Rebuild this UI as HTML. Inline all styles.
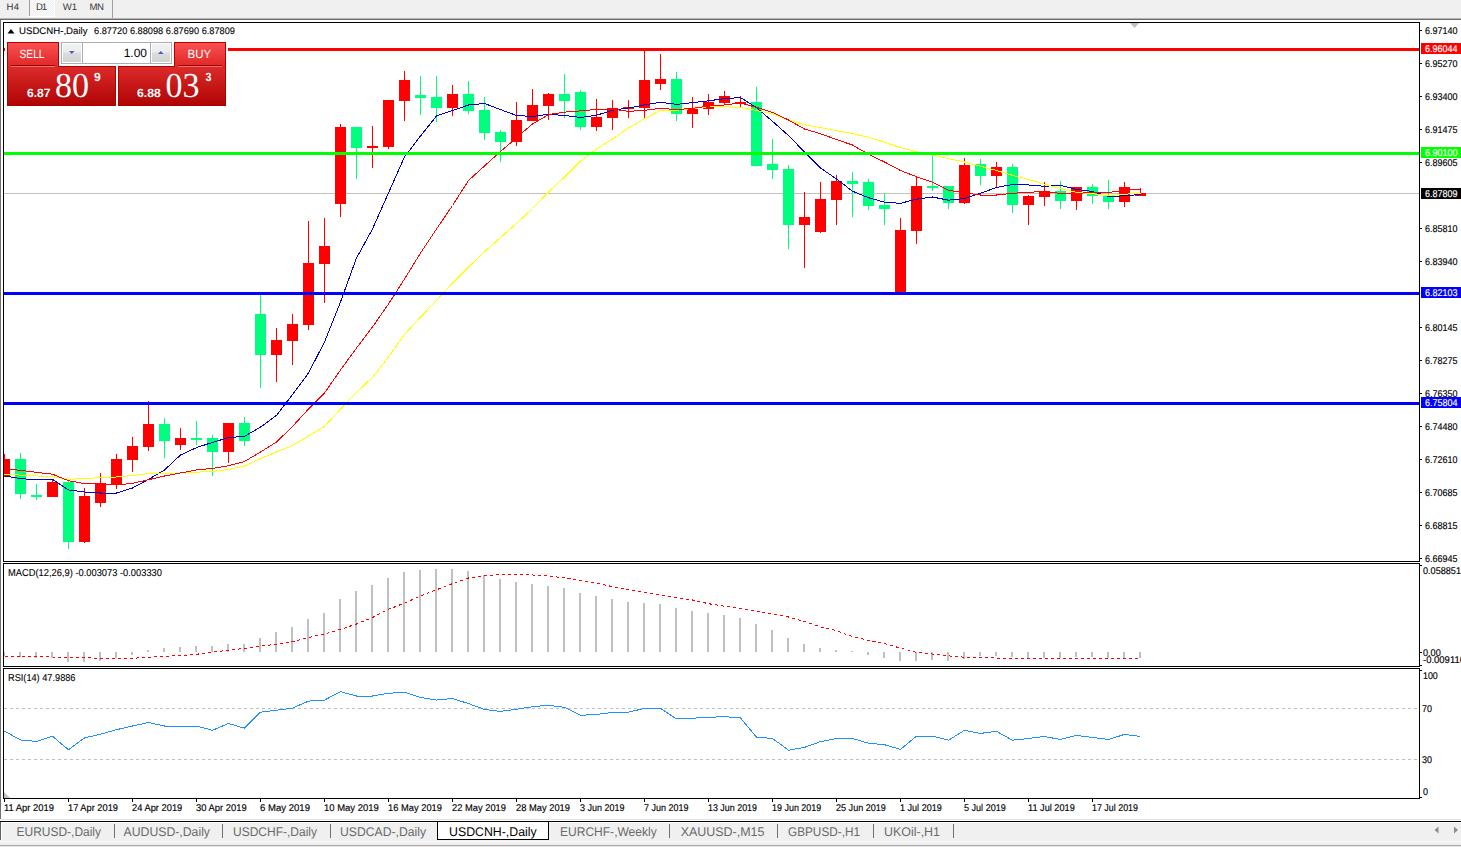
<!DOCTYPE html>
<html><head><meta charset="utf-8"><title>USDCNH-,Daily</title><style>
html,body{margin:0;padding:0;width:1461px;height:847px;overflow:hidden;background:#ffffff}
svg{display:block;position:absolute;left:0;top:0}
text{font-family:"Liberation Sans",sans-serif;text-rendering:geometricPrecision}
</style></head><body>
<svg width="1461" height="847" viewBox="0 0 1461 847">
<defs>
<linearGradient id="redg" x1="0" y1="0" x2="0" y2="1"><stop offset="0" stop-color="#f24a4a"/><stop offset="0.38" stop-color="#d82222"/><stop offset="1" stop-color="#ae0000"/></linearGradient>
<linearGradient id="redtop" x1="0" y1="0" x2="0" y2="1"><stop offset="0" stop-color="#fb5050"/><stop offset="1" stop-color="#e02828"/></linearGradient>
<linearGradient id="redlow" x1="0" y1="0" x2="0" y2="1"><stop offset="0" stop-color="#dc2a2a"/><stop offset="1" stop-color="#b00404"/></linearGradient>
<linearGradient id="btng" x1="0" y1="0" x2="0" y2="1"><stop offset="0" stop-color="#f2f2f2"/><stop offset="0.45" stop-color="#ebebeb"/><stop offset="0.5" stop-color="#dcdcdc"/><stop offset="1" stop-color="#d2d2d2"/></linearGradient>
<pattern id="dots" width="2" height="2" patternUnits="userSpaceOnUse"><rect width="2" height="2" fill="#f0f0f0"/><rect width="1" height="1" fill="#fcfcfc"/><rect x="1" y="1" width="1" height="1" fill="#fcfcfc"/></pattern>
<clipPath id="mainclip"><rect x="4" y="23" width="1415" height="538"/></clipPath>
<clipPath id="macdclip"><rect x="4" y="564" width="1415" height="102"/></clipPath>
<clipPath id="rsiclip"><rect x="4" y="669" width="1415" height="129"/></clipPath>
</defs>
<rect x="0" y="0" width="1461" height="847" fill="#ffffff"/>
<g shape-rendering="crispEdges">
<rect x="0" y="0" width="1461" height="18" fill="#f0f0f0"/>
<rect x="30" y="0" width="24" height="16" fill="url(#dots)"/>
<rect x="29" y="0" width="1" height="16" fill="#a0a0a0"/>
<rect x="29" y="16" width="26" height="1" fill="#ffffff"/>
<rect x="54" y="0" width="1" height="16" fill="#ffffff"/>
<rect x="112" y="0" width="1" height="18" fill="#a0a0a0"/>
<rect x="0" y="18" width="1461" height="1" fill="#b4b4b4"/>
<rect x="0" y="19" width="1461" height="1" fill="#6e6e6e"/>
<rect x="0" y="20" width="1" height="799" fill="#707070"/>
<rect x="3" y="22" width="1417" height="1" fill="#000"/>
<rect x="3" y="561" width="1417" height="1" fill="#000"/>
<rect x="3" y="22" width="1" height="540" fill="#000"/>
<rect x="1419" y="22" width="1" height="540" fill="#000"/>
<rect x="3" y="563" width="1417" height="1" fill="#000"/>
<rect x="3" y="666" width="1417" height="1" fill="#000"/>
<rect x="3" y="563" width="1" height="104" fill="#000"/>
<rect x="1419" y="563" width="1" height="104" fill="#000"/>
<rect x="3" y="668" width="1417" height="1" fill="#000"/>
<rect x="3" y="798" width="1417" height="1" fill="#000"/>
<rect x="3" y="668" width="1" height="131" fill="#000"/>
<rect x="1419" y="668" width="1" height="131" fill="#000"/>
<rect x="0" y="819" width="1461" height="1" fill="#e3e3e3"/>
<rect x="0" y="821" width="1461" height="1" fill="#000"/>
<rect x="0" y="822" width="1461" height="19" fill="#f0f0f0"/>
<rect x="0" y="822" width="1461" height="1" fill="#ffffff"/>
<rect x="0" y="841" width="1461" height="1" fill="#fafafa"/>
<rect x="0" y="842" width="1461" height="3" fill="#f0f0f0"/>
<rect x="0" y="845" width="1461" height="1" fill="#a8a8a8"/>
<rect x="0" y="846" width="1461" height="1" fill="#e8e8e8"/>
<rect x="0" y="822" width="1" height="18" fill="#606060"/>
<rect x="1" y="822" width="1" height="18" fill="#ffffff"/>
<rect x="437" y="822" width="112" height="17" fill="#ffffff"/>
<rect x="437" y="821" width="1" height="19" fill="#000"/>
<rect x="548" y="821" width="1" height="19" fill="#000"/>
<rect x="437" y="839" width="112" height="1" fill="#000"/>
<rect x="114" y="824" width="1" height="14" fill="#707070"/>
<rect x="222" y="824" width="1" height="14" fill="#707070"/>
<rect x="330" y="824" width="1" height="14" fill="#707070"/>
<rect x="669" y="824" width="1" height="14" fill="#707070"/>
<rect x="777" y="824" width="1" height="14" fill="#707070"/>
<rect x="873" y="824" width="1" height="14" fill="#707070"/>
<rect x="953" y="824" width="1" height="14" fill="#707070"/>
</g>
<path d="M1438.5,826.5 L1434.5,830 L1438.5,833.5 Z" fill="#8c8c8c"/>
<path d="M1454,826.5 L1458,830 L1454,833.5 Z" fill="#8c8c8c"/>
<g clip-path="url(#mainclip)" shape-rendering="crispEdges">
<rect x="4" y="193" width="1415" height="1" fill="#c0c0c0"/>
<rect x="4" y="454" width="1" height="23" fill="#ff0000"/>
<rect x="-1" y="459" width="11" height="18" fill="#ff0000"/>
<rect x="20" y="453" width="1" height="46" fill="#00ff7f"/>
<rect x="15" y="459" width="11" height="35" fill="#00ff7f"/>
<rect x="36" y="484" width="1" height="16" fill="#00ff7f"/>
<rect x="31" y="495" width="11" height="2" fill="#00ff7f"/>
<rect x="52" y="480" width="1" height="17" fill="#ff0000"/>
<rect x="47" y="482" width="11" height="15" fill="#ff0000"/>
<rect x="68" y="481" width="1" height="68" fill="#00ff7f"/>
<rect x="63" y="482" width="11" height="60" fill="#00ff7f"/>
<rect x="84" y="488" width="1" height="55" fill="#ff0000"/>
<rect x="79" y="496" width="11" height="46" fill="#ff0000"/>
<rect x="100" y="473" width="1" height="34" fill="#ff0000"/>
<rect x="95" y="483" width="11" height="20" fill="#ff0000"/>
<rect x="116" y="454" width="1" height="35" fill="#ff0000"/>
<rect x="111" y="459" width="11" height="25" fill="#ff0000"/>
<rect x="132" y="437" width="1" height="35" fill="#ff0000"/>
<rect x="127" y="446" width="11" height="14" fill="#ff0000"/>
<rect x="148" y="401" width="1" height="50" fill="#ff0000"/>
<rect x="143" y="424" width="11" height="23" fill="#ff0000"/>
<rect x="164" y="418" width="1" height="40" fill="#00ff7f"/>
<rect x="159" y="424" width="11" height="17" fill="#00ff7f"/>
<rect x="180" y="428" width="1" height="22" fill="#ff0000"/>
<rect x="175" y="438" width="11" height="7" fill="#ff0000"/>
<rect x="196" y="421" width="1" height="24" fill="#00ff7f"/>
<rect x="191" y="438" width="11" height="2" fill="#00ff7f"/>
<rect x="212" y="435" width="1" height="41" fill="#00ff7f"/>
<rect x="207" y="438" width="11" height="14" fill="#00ff7f"/>
<rect x="228" y="423" width="1" height="40" fill="#ff0000"/>
<rect x="223" y="423" width="11" height="29" fill="#ff0000"/>
<rect x="244" y="417" width="1" height="29" fill="#00ff7f"/>
<rect x="239" y="423" width="11" height="18" fill="#00ff7f"/>
<rect x="260" y="295" width="1" height="93" fill="#00ff7f"/>
<rect x="255" y="314" width="11" height="41" fill="#00ff7f"/>
<rect x="276" y="328" width="1" height="54" fill="#ff0000"/>
<rect x="271" y="340" width="11" height="15" fill="#ff0000"/>
<rect x="292" y="314" width="1" height="51" fill="#ff0000"/>
<rect x="287" y="324" width="11" height="17" fill="#ff0000"/>
<rect x="308" y="221" width="1" height="109" fill="#ff0000"/>
<rect x="303" y="263" width="11" height="62" fill="#ff0000"/>
<rect x="324" y="218" width="1" height="85" fill="#ff0000"/>
<rect x="319" y="246" width="11" height="18" fill="#ff0000"/>
<rect x="340" y="124" width="1" height="93" fill="#ff0000"/>
<rect x="335" y="127" width="11" height="77" fill="#ff0000"/>
<rect x="356" y="127" width="1" height="52" fill="#00ff7f"/>
<rect x="351" y="127" width="11" height="21" fill="#00ff7f"/>
<rect x="372" y="126" width="1" height="42" fill="#ff0000"/>
<rect x="367" y="146" width="11" height="2" fill="#ff0000"/>
<rect x="388" y="100" width="1" height="49" fill="#ff0000"/>
<rect x="383" y="100" width="11" height="47" fill="#ff0000"/>
<rect x="404" y="71" width="1" height="50" fill="#ff0000"/>
<rect x="399" y="80" width="11" height="21" fill="#ff0000"/>
<rect x="420" y="76" width="1" height="39" fill="#00ff7f"/>
<rect x="415" y="95" width="11" height="3" fill="#00ff7f"/>
<rect x="436" y="76" width="1" height="46" fill="#00ff7f"/>
<rect x="431" y="97" width="11" height="11" fill="#00ff7f"/>
<rect x="452" y="85" width="1" height="31" fill="#ff0000"/>
<rect x="447" y="94" width="11" height="14" fill="#ff0000"/>
<rect x="468" y="81" width="1" height="33" fill="#00ff7f"/>
<rect x="463" y="94" width="11" height="17" fill="#00ff7f"/>
<rect x="484" y="97" width="1" height="43" fill="#00ff7f"/>
<rect x="479" y="110" width="11" height="23" fill="#00ff7f"/>
<rect x="500" y="130" width="1" height="32" fill="#00ff7f"/>
<rect x="495" y="132" width="11" height="10" fill="#00ff7f"/>
<rect x="516" y="102" width="1" height="44" fill="#ff0000"/>
<rect x="511" y="120" width="11" height="22" fill="#ff0000"/>
<rect x="532" y="89" width="1" height="32" fill="#ff0000"/>
<rect x="527" y="105" width="11" height="16" fill="#ff0000"/>
<rect x="548" y="93" width="1" height="27" fill="#ff0000"/>
<rect x="543" y="94" width="11" height="12" fill="#ff0000"/>
<rect x="564" y="74" width="1" height="44" fill="#00ff7f"/>
<rect x="559" y="94" width="11" height="7" fill="#00ff7f"/>
<rect x="580" y="90" width="1" height="40" fill="#00ff7f"/>
<rect x="575" y="92" width="11" height="35" fill="#00ff7f"/>
<rect x="596" y="99" width="1" height="32" fill="#ff0000"/>
<rect x="591" y="117" width="11" height="10" fill="#ff0000"/>
<rect x="612" y="100" width="1" height="30" fill="#ff0000"/>
<rect x="607" y="108" width="11" height="10" fill="#ff0000"/>
<rect x="628" y="100" width="1" height="18" fill="#ff0000"/>
<rect x="623" y="107" width="11" height="2" fill="#ff0000"/>
<rect x="644" y="49" width="1" height="69" fill="#ff0000"/>
<rect x="639" y="80" width="11" height="28" fill="#ff0000"/>
<rect x="660" y="54" width="1" height="36" fill="#ff0000"/>
<rect x="655" y="79" width="11" height="5" fill="#ff0000"/>
<rect x="676" y="72" width="1" height="49" fill="#00ff7f"/>
<rect x="671" y="79" width="11" height="35" fill="#00ff7f"/>
<rect x="692" y="97" width="1" height="31" fill="#ff0000"/>
<rect x="687" y="109" width="11" height="5" fill="#ff0000"/>
<rect x="708" y="94" width="1" height="21" fill="#ff0000"/>
<rect x="703" y="102" width="11" height="7" fill="#ff0000"/>
<rect x="724" y="91" width="1" height="13" fill="#ff0000"/>
<rect x="719" y="96" width="11" height="7" fill="#ff0000"/>
<rect x="740" y="96" width="1" height="11" fill="#ff0000"/>
<rect x="735" y="102" width="11" height="2" fill="#ff0000"/>
<rect x="756" y="87" width="1" height="79" fill="#00ff7f"/>
<rect x="751" y="102" width="11" height="64" fill="#00ff7f"/>
<rect x="772" y="139" width="1" height="40" fill="#00ff7f"/>
<rect x="767" y="164" width="11" height="6" fill="#00ff7f"/>
<rect x="788" y="165" width="1" height="84" fill="#00ff7f"/>
<rect x="783" y="169" width="11" height="56" fill="#00ff7f"/>
<rect x="804" y="192" width="1" height="76" fill="#ff0000"/>
<rect x="799" y="217" width="11" height="8" fill="#ff0000"/>
<rect x="820" y="182" width="1" height="51" fill="#ff0000"/>
<rect x="815" y="199" width="11" height="33" fill="#ff0000"/>
<rect x="836" y="175" width="1" height="50" fill="#ff0000"/>
<rect x="831" y="181" width="11" height="19" fill="#ff0000"/>
<rect x="852" y="172" width="1" height="45" fill="#00ff7f"/>
<rect x="847" y="181" width="11" height="3" fill="#00ff7f"/>
<rect x="868" y="179" width="1" height="31" fill="#00ff7f"/>
<rect x="863" y="182" width="11" height="24" fill="#00ff7f"/>
<rect x="884" y="193" width="1" height="32" fill="#00ff7f"/>
<rect x="879" y="205" width="11" height="4" fill="#00ff7f"/>
<rect x="900" y="218" width="1" height="74" fill="#ff0000"/>
<rect x="895" y="230" width="11" height="62" fill="#ff0000"/>
<rect x="916" y="176" width="1" height="68" fill="#ff0000"/>
<rect x="911" y="186" width="11" height="45" fill="#ff0000"/>
<rect x="932" y="155" width="1" height="36" fill="#00ff7f"/>
<rect x="927" y="186" width="11" height="2" fill="#00ff7f"/>
<rect x="948" y="186" width="1" height="23" fill="#00ff7f"/>
<rect x="943" y="186" width="11" height="17" fill="#00ff7f"/>
<rect x="964" y="158" width="1" height="46" fill="#ff0000"/>
<rect x="959" y="165" width="11" height="38" fill="#ff0000"/>
<rect x="980" y="159" width="1" height="26" fill="#00ff7f"/>
<rect x="975" y="164" width="11" height="12" fill="#00ff7f"/>
<rect x="996" y="162" width="1" height="25" fill="#ff0000"/>
<rect x="991" y="167" width="11" height="9" fill="#ff0000"/>
<rect x="1012" y="164" width="1" height="49" fill="#00ff7f"/>
<rect x="1007" y="167" width="11" height="38" fill="#00ff7f"/>
<rect x="1028" y="195" width="1" height="30" fill="#ff0000"/>
<rect x="1023" y="196" width="11" height="9" fill="#ff0000"/>
<rect x="1044" y="182" width="1" height="24" fill="#ff0000"/>
<rect x="1039" y="191" width="11" height="6" fill="#ff0000"/>
<rect x="1060" y="181" width="1" height="28" fill="#00ff7f"/>
<rect x="1055" y="191" width="11" height="10" fill="#00ff7f"/>
<rect x="1076" y="187" width="1" height="23" fill="#ff0000"/>
<rect x="1071" y="187" width="11" height="14" fill="#ff0000"/>
<rect x="1092" y="184" width="1" height="20" fill="#00ff7f"/>
<rect x="1087" y="187" width="11" height="9" fill="#00ff7f"/>
<rect x="1108" y="180" width="1" height="29" fill="#00ff7f"/>
<rect x="1103" y="196" width="11" height="6" fill="#00ff7f"/>
<rect x="1124" y="182" width="1" height="25" fill="#ff0000"/>
<rect x="1119" y="187" width="11" height="15" fill="#ff0000"/>
<rect x="1140" y="188" width="1" height="8" fill="#ff0000"/>
<rect x="1135" y="193" width="11" height="3" fill="#ff0000"/>
</g>
<g clip-path="url(#mainclip)">
<polyline points="4.5,476 20.5,478.5 36.5,480 52.5,479.4 68.5,490 84.5,492 100.5,493 116.5,493 132.5,488 148.5,479.4 164.5,470 180.5,455 196.5,447.6 212.5,442.4 228.5,437.6 244.5,436.3 260.5,427.1 276.5,415.4 292.5,394.5 308.5,373 324.5,342 340.5,302 356.5,258 372.5,229 388.5,193 404.5,157 420.5,136 436.5,116 452.5,110.5 468.5,105 484.5,103.5 500.5,109.6 516.5,115.5 532.5,116.5 548.5,114.3 564.5,115.5 580.5,117.5 596.5,115.3 612.5,110.2 628.5,108 644.5,105 660.5,102.2 676.5,104.4 692.5,102.6 708.5,100.8 724.5,98.7 740.5,97.5 756.5,107.7 772.5,121.3 788.5,135.5 804.5,152 820.5,168 836.5,179 852.5,191.2 868.5,197.7 884.5,202.2 900.5,203.3 916.5,199.2 932.5,197 948.5,200.2 964.5,198.6 980.5,193.3 996.5,187.5 1012.5,184.5 1028.5,185 1044.5,186.3 1060.5,185.3 1076.5,189.4 1092.5,191.4 1108.5,196.6 1124.5,195.8 1140.5,194.4" fill="none" stroke="#0000cd" stroke-width="1" shape-rendering="crispEdges"/>
<polyline points="4.5,474.2 20.5,475.1 36.5,475.9 52.5,476.8 68.5,479.4 84.5,478.5 100.5,477.7 116.5,477 132.5,475.5 148.5,473.6 164.5,473.3 180.5,473 196.5,472.2 212.5,471.4 228.5,469.5 244.5,466 260.5,458.5 276.5,452 292.5,445.5 308.5,436 324.5,426.5 340.5,409 356.5,392.5 372.5,377.5 388.5,357 404.5,334.5 420.5,317 436.5,300.5 452.5,283 468.5,267 484.5,251.8 500.5,237.5 516.5,223.5 532.5,208.5 548.5,192 564.5,177 580.5,161 596.5,149 612.5,139 628.5,128 644.5,118.9 660.5,110.3 676.5,110.3 692.5,108.5 708.5,106.7 724.5,106.7 740.5,107.5 756.5,110.5 772.5,113.6 788.5,120 804.5,124.8 820.5,127.6 836.5,130.7 852.5,133.7 868.5,137.2 884.5,142.3 900.5,147.7 916.5,151.6 932.5,155 948.5,158.6 964.5,162 980.5,166.2 996.5,170.5 1012.5,175.3 1028.5,179.5 1044.5,184.2 1060.5,188.5 1076.5,192.3 1092.5,193.7 1108.5,195.5 1124.5,194.2 1140.5,193.3" fill="none" stroke="#ffff00" stroke-width="1" shape-rendering="crispEdges"/>
<polyline points="4.5,469 20.5,470.3 36.5,472.3 52.5,474.2 68.5,480.7 84.5,483.6 100.5,484 116.5,485 132.5,483.3 148.5,479.7 164.5,476 180.5,473 196.5,470 212.5,468.4 228.5,465.8 244.5,461.5 260.5,452 276.5,442 292.5,426.5 308.5,409 324.5,393 340.5,370 356.5,348 372.5,327 388.5,304 404.5,279 420.5,253 436.5,229 452.5,205.5 468.5,180.5 484.5,166 500.5,151.5 516.5,137.7 532.5,124 548.5,114.6 564.5,112.1 580.5,110.9 596.5,109.4 612.5,109 628.5,111.4 644.5,110.3 660.5,108.3 676.5,109.7 692.5,108.3 708.5,106.1 724.5,105 740.5,103 756.5,107.4 772.5,112.4 788.5,120 804.5,129 820.5,133.7 836.5,139.6 852.5,145 868.5,154.4 884.5,162 900.5,170.5 916.5,176.7 932.5,182.2 948.5,190.2 964.5,192.8 980.5,195 996.5,195 1012.5,193.3 1028.5,192.3 1044.5,191.4 1060.5,193.5 1076.5,193.5 1092.5,192.3 1108.5,192.5 1124.5,190.4 1140.5,189.1" fill="none" stroke="#ff0000" stroke-width="1" shape-rendering="crispEdges"/>
</g>
<g clip-path="url(#mainclip)" shape-rendering="crispEdges">
<rect x="4" y="48" width="1415" height="3" fill="#ff0000"/>
<rect x="4" y="152" width="1415" height="3" fill="#00ff00"/>
<rect x="4" y="292" width="1415" height="3" fill="#0000ff"/>
<rect x="4" y="402" width="1415" height="3" fill="#0000ff"/>
</g>
<path d="M1130,23 L1139,23 L1134.5,28 Z" fill="#c0c0c0"/>
<g clip-path="url(#macdclip)" shape-rendering="crispEdges">
<rect x="3" y="652" width="2" height="4" fill="#c0c0c0"/>
<rect x="19" y="652" width="2" height="5" fill="#c0c0c0"/>
<rect x="35" y="652" width="2" height="6" fill="#c0c0c0"/>
<rect x="51" y="652" width="2" height="6" fill="#c0c0c0"/>
<rect x="67" y="652" width="2" height="10" fill="#c0c0c0"/>
<rect x="83" y="652" width="2" height="10" fill="#c0c0c0"/>
<rect x="99" y="652" width="2" height="9" fill="#c0c0c0"/>
<rect x="115" y="652" width="2" height="6" fill="#c0c0c0"/>
<rect x="131" y="652" width="2" height="3" fill="#c0c0c0"/>
<rect x="147" y="650" width="2" height="2" fill="#c0c0c0"/>
<rect x="163" y="648" width="2" height="4" fill="#c0c0c0"/>
<rect x="179" y="647" width="2" height="5" fill="#c0c0c0"/>
<rect x="195" y="646" width="2" height="6" fill="#c0c0c0"/>
<rect x="211" y="646" width="2" height="6" fill="#c0c0c0"/>
<rect x="227" y="644" width="2" height="8" fill="#c0c0c0"/>
<rect x="243" y="644" width="2" height="8" fill="#c0c0c0"/>
<rect x="259" y="638" width="2" height="14" fill="#c0c0c0"/>
<rect x="275" y="632" width="2" height="20" fill="#c0c0c0"/>
<rect x="291" y="627" width="2" height="25" fill="#c0c0c0"/>
<rect x="307" y="619" width="2" height="33" fill="#c0c0c0"/>
<rect x="323" y="613" width="2" height="39" fill="#c0c0c0"/>
<rect x="339" y="599" width="2" height="53" fill="#c0c0c0"/>
<rect x="355" y="591" width="2" height="61" fill="#c0c0c0"/>
<rect x="371" y="585" width="2" height="67" fill="#c0c0c0"/>
<rect x="387" y="578" width="2" height="74" fill="#c0c0c0"/>
<rect x="403" y="572" width="2" height="80" fill="#c0c0c0"/>
<rect x="419" y="570" width="2" height="82" fill="#c0c0c0"/>
<rect x="435" y="569" width="2" height="83" fill="#c0c0c0"/>
<rect x="451" y="569" width="2" height="83" fill="#c0c0c0"/>
<rect x="467" y="571" width="2" height="81" fill="#c0c0c0"/>
<rect x="483" y="575" width="2" height="77" fill="#c0c0c0"/>
<rect x="499" y="579" width="2" height="73" fill="#c0c0c0"/>
<rect x="515" y="582" width="2" height="70" fill="#c0c0c0"/>
<rect x="531" y="584" width="2" height="68" fill="#c0c0c0"/>
<rect x="547" y="586" width="2" height="66" fill="#c0c0c0"/>
<rect x="563" y="588" width="2" height="64" fill="#c0c0c0"/>
<rect x="579" y="593" width="2" height="59" fill="#c0c0c0"/>
<rect x="595" y="596" width="2" height="56" fill="#c0c0c0"/>
<rect x="611" y="599" width="2" height="53" fill="#c0c0c0"/>
<rect x="627" y="602" width="2" height="50" fill="#c0c0c0"/>
<rect x="643" y="603" width="2" height="49" fill="#c0c0c0"/>
<rect x="659" y="604" width="2" height="48" fill="#c0c0c0"/>
<rect x="675" y="608" width="2" height="44" fill="#c0c0c0"/>
<rect x="691" y="611" width="2" height="41" fill="#c0c0c0"/>
<rect x="707" y="613" width="2" height="39" fill="#c0c0c0"/>
<rect x="723" y="615" width="2" height="37" fill="#c0c0c0"/>
<rect x="739" y="618" width="2" height="34" fill="#c0c0c0"/>
<rect x="755" y="624" width="2" height="28" fill="#c0c0c0"/>
<rect x="771" y="630" width="2" height="22" fill="#c0c0c0"/>
<rect x="787" y="638" width="2" height="14" fill="#c0c0c0"/>
<rect x="803" y="644" width="2" height="8" fill="#c0c0c0"/>
<rect x="819" y="648" width="2" height="4" fill="#c0c0c0"/>
<rect x="835" y="650" width="2" height="2" fill="#c0c0c0"/>
<rect x="851" y="651" width="2" height="1" fill="#c0c0c0"/>
<rect x="867" y="652" width="2" height="3" fill="#c0c0c0"/>
<rect x="883" y="652" width="2" height="6" fill="#c0c0c0"/>
<rect x="899" y="652" width="2" height="9" fill="#c0c0c0"/>
<rect x="915" y="652" width="2" height="9" fill="#c0c0c0"/>
<rect x="931" y="652" width="2" height="8" fill="#c0c0c0"/>
<rect x="947" y="652" width="2" height="9" fill="#c0c0c0"/>
<rect x="963" y="652" width="2" height="7" fill="#c0c0c0"/>
<rect x="979" y="652" width="2" height="4" fill="#c0c0c0"/>
<rect x="995" y="652" width="2" height="4" fill="#c0c0c0"/>
<rect x="1011" y="652" width="2" height="5" fill="#c0c0c0"/>
<rect x="1027" y="652" width="2" height="6" fill="#c0c0c0"/>
<rect x="1043" y="652" width="2" height="6" fill="#c0c0c0"/>
<rect x="1059" y="652" width="2" height="6" fill="#c0c0c0"/>
<rect x="1075" y="652" width="2" height="5" fill="#c0c0c0"/>
<rect x="1091" y="652" width="2" height="5" fill="#c0c0c0"/>
<rect x="1107" y="652" width="2" height="6" fill="#c0c0c0"/>
<rect x="1123" y="652" width="2" height="6" fill="#c0c0c0"/>
<rect x="1139" y="652" width="2" height="6" fill="#c0c0c0"/>
</g>
<g clip-path="url(#macdclip)">
<polyline points="4.5,656.3 20.5,656.3 36.5,656.5 52.5,657 68.5,657.3 84.5,657.8 100.5,658.3 116.5,658.4 132.5,658.3 148.5,657.3 164.5,656.3 180.5,655.5 196.5,654.3 212.5,652 228.5,650.3 244.5,648.3 260.5,646.2 276.5,644.2 292.5,641.7 308.5,637.6 324.5,633.9 340.5,629.4 356.5,624 372.5,617.5 388.5,609.3 404.5,603.1 420.5,596 436.5,589.8 452.5,583.6 468.5,578 484.5,576 500.5,574.5 516.5,574.4 532.5,575 548.5,576 564.5,578 580.5,580.5 596.5,583 612.5,586.7 628.5,589.4 644.5,592.4 660.5,595.3 676.5,597.6 692.5,600 708.5,603.7 724.5,606.2 740.5,608.7 756.5,611.3 772.5,613.8 788.5,617 804.5,621.6 820.5,626.8 836.5,630.7 852.5,636.7 868.5,640.3 884.5,643.7 900.5,648.1 916.5,652.3 932.5,654.1 948.5,655.9 964.5,657.2 980.5,657.2 996.5,658 1012.5,658 1028.5,658 1044.5,658 1060.5,658 1076.5,658 1092.5,658 1108.5,658 1124.5,658 1140.5,658" fill="none" stroke="#ff0000" stroke-width="1" shape-rendering="crispEdges" stroke-dasharray="3,3"/>
</g>
<g clip-path="url(#rsiclip)" shape-rendering="crispEdges">
<line x1="4" y1="708.5" x2="1419" y2="708.5" stroke="#c0c0c0" stroke-width="1" stroke-dasharray="3,3"/>
<line x1="4" y1="759.5" x2="1419" y2="759.5" stroke="#c0c0c0" stroke-width="1" stroke-dasharray="3,3"/>
</g>
<g clip-path="url(#rsiclip)">
<polyline points="4.5,731.1 20.5,740 36.5,741.4 52.5,736.3 68.5,749.8 84.5,737.9 100.5,734.2 116.5,729.7 132.5,726 148.5,722.5 164.5,726 180.5,726 196.5,726 212.5,730.3 228.5,723.5 244.5,728.2 260.5,712.2 276.5,710.2 292.5,708.1 308.5,701.1 324.5,700.1 340.5,691.7 356.5,696 372.5,696 388.5,693.3 404.5,692.3 420.5,697.5 436.5,700.1 452.5,698.5 468.5,703.6 484.5,709.4 500.5,711.4 516.5,709.2 532.5,706.7 548.5,705.3 564.5,707.3 580.5,715.3 596.5,714.5 612.5,712.4 628.5,712.2 644.5,708.3 660.5,708.3 676.5,719 692.5,718.2 708.5,717.4 724.5,716.6 740.5,718 756.5,737.1 772.5,738.5 788.5,750.2 804.5,747.4 820.5,741.6 836.5,738.5 852.5,738.5 868.5,743.2 884.5,744.7 900.5,749.4 916.5,736.1 932.5,736.1 948.5,740.2 964.5,730.3 980.5,733.4 996.5,731.3 1012.5,740.2 1028.5,738.5 1044.5,736.5 1060.5,739.5 1076.5,735.4 1092.5,737.5 1108.5,739.5 1124.5,734.4 1140.5,736.5" fill="none" stroke="#1e90ff" stroke-width="1" shape-rendering="crispEdges"/>
</g>
<path d="M4,792 L4,798 L10,798 Z" fill="#c0c0c0"/>
<g shape-rendering="crispEdges">
<rect x="1420" y="30" width="2" height="1" fill="#000"/>
<rect x="1420" y="63" width="2" height="1" fill="#000"/>
<rect x="1420" y="96" width="2" height="1" fill="#000"/>
<rect x="1420" y="129" width="2" height="1" fill="#000"/>
<rect x="1420" y="162" width="2" height="1" fill="#000"/>
<rect x="1420" y="228" width="2" height="1" fill="#000"/>
<rect x="1420" y="261" width="2" height="1" fill="#000"/>
<rect x="1420" y="327" width="2" height="1" fill="#000"/>
<rect x="1420" y="360" width="2" height="1" fill="#000"/>
<rect x="1420" y="393" width="2" height="1" fill="#000"/>
<rect x="1420" y="426" width="2" height="1" fill="#000"/>
<rect x="1420" y="459" width="2" height="1" fill="#000"/>
<rect x="1420" y="492" width="2" height="1" fill="#000"/>
<rect x="1420" y="525" width="2" height="1" fill="#000"/>
<rect x="1420" y="558" width="2" height="1" fill="#000"/>
</g>
<text x="1425" y="34" font-size="9.8" fill="#000" textLength="32.5" lengthAdjust="spacingAndGlyphs" stroke="#000" stroke-width="0.15">6.97140</text>
<text x="1425" y="67" font-size="9.8" fill="#000" textLength="32.5" lengthAdjust="spacingAndGlyphs" stroke="#000" stroke-width="0.15">6.95270</text>
<text x="1425" y="100" font-size="9.8" fill="#000" textLength="32.5" lengthAdjust="spacingAndGlyphs" stroke="#000" stroke-width="0.15">6.93400</text>
<text x="1425" y="133" font-size="9.8" fill="#000" textLength="32.5" lengthAdjust="spacingAndGlyphs" stroke="#000" stroke-width="0.15">6.91475</text>
<text x="1425" y="166" font-size="9.8" fill="#000" textLength="32.5" lengthAdjust="spacingAndGlyphs" stroke="#000" stroke-width="0.15">6.89605</text>
<text x="1425" y="232" font-size="9.8" fill="#000" textLength="32.5" lengthAdjust="spacingAndGlyphs" stroke="#000" stroke-width="0.15">6.85810</text>
<text x="1425" y="265" font-size="9.8" fill="#000" textLength="32.5" lengthAdjust="spacingAndGlyphs" stroke="#000" stroke-width="0.15">6.83940</text>
<text x="1425" y="331" font-size="9.8" fill="#000" textLength="32.5" lengthAdjust="spacingAndGlyphs" stroke="#000" stroke-width="0.15">6.80145</text>
<text x="1425" y="364" font-size="9.8" fill="#000" textLength="32.5" lengthAdjust="spacingAndGlyphs" stroke="#000" stroke-width="0.15">6.78275</text>
<text x="1425" y="397" font-size="9.8" fill="#000" textLength="32.5" lengthAdjust="spacingAndGlyphs" stroke="#000" stroke-width="0.15">6.76350</text>
<text x="1425" y="430" font-size="9.8" fill="#000" textLength="32.5" lengthAdjust="spacingAndGlyphs" stroke="#000" stroke-width="0.15">6.74480</text>
<text x="1425" y="463" font-size="9.8" fill="#000" textLength="32.5" lengthAdjust="spacingAndGlyphs" stroke="#000" stroke-width="0.15">6.72610</text>
<text x="1425" y="496" font-size="9.8" fill="#000" textLength="32.5" lengthAdjust="spacingAndGlyphs" stroke="#000" stroke-width="0.15">6.70685</text>
<text x="1425" y="529" font-size="9.8" fill="#000" textLength="32.5" lengthAdjust="spacingAndGlyphs" stroke="#000" stroke-width="0.15">6.68815</text>
<text x="1425" y="562" font-size="9.8" fill="#000" textLength="32.5" lengthAdjust="spacingAndGlyphs" stroke="#000" stroke-width="0.15">6.66945</text>
<g shape-rendering="crispEdges">
<rect x="1421" y="43" width="40" height="11" fill="#ff0000"/>
<rect x="1421" y="147" width="40" height="11" fill="#00ff00"/>
<rect x="1421" y="188" width="40" height="11" fill="#000000"/>
<rect x="1421" y="287" width="40" height="11" fill="#0000ff"/>
<rect x="1421" y="397" width="40" height="11" fill="#0000ff"/>
</g>
<text x="1425" y="52" font-size="9.8" fill="#ffffff" textLength="32.5" lengthAdjust="spacingAndGlyphs" stroke="#ffffff" stroke-width="0.15">6.96044</text>
<text x="1425" y="156" font-size="9.8" fill="#ffffff" textLength="32.5" lengthAdjust="spacingAndGlyphs" stroke="#ffffff" stroke-width="0.15">6.90100</text>
<text x="1425" y="197" font-size="9.8" fill="#ffffff" textLength="32.5" lengthAdjust="spacingAndGlyphs" stroke="#ffffff" stroke-width="0.15">6.87809</text>
<text x="1425" y="296" font-size="9.8" fill="#ffffff" textLength="32.5" lengthAdjust="spacingAndGlyphs" stroke="#ffffff" stroke-width="0.15">6.82103</text>
<text x="1425" y="406" font-size="9.8" fill="#ffffff" textLength="32.5" lengthAdjust="spacingAndGlyphs" stroke="#ffffff" stroke-width="0.15">6.75804</text>
<g shape-rendering="crispEdges">
<rect x="1420" y="565" width="2" height="1" fill="#000"/>
<rect x="1420" y="652" width="2" height="1" fill="#000"/>
<rect x="1420" y="665" width="2" height="1" fill="#000"/>
<rect x="1420" y="670" width="2" height="1" fill="#000"/>
<rect x="1420" y="797" width="2" height="1" fill="#000"/>
</g>
<text x="1423" y="574" font-size="9.8" fill="#000" textLength="38" lengthAdjust="spacingAndGlyphs" stroke="#000" stroke-width="0.15">0.058851</text>
<text x="1423" y="656" font-size="9.8" fill="#000" textLength="17.8" lengthAdjust="spacingAndGlyphs" stroke="#000" stroke-width="0.15">0.00</text>
<text x="1423" y="663" font-size="9.8" fill="#000" textLength="42" lengthAdjust="spacingAndGlyphs" stroke="#000" stroke-width="0.15">-0.009116</text>
<text x="1423" y="679" font-size="9.8" fill="#000" textLength="14.8" lengthAdjust="spacingAndGlyphs" stroke="#000" stroke-width="0.15">100</text>
<text x="1422" y="712" font-size="9.8" fill="#000" textLength="10" lengthAdjust="spacingAndGlyphs" stroke="#000" stroke-width="0.15">70</text>
<text x="1422" y="763" font-size="9.8" fill="#000" textLength="10" lengthAdjust="spacingAndGlyphs" stroke="#000" stroke-width="0.15">30</text>
<text x="1423" y="795" font-size="9.8" fill="#000" textLength="5" lengthAdjust="spacingAndGlyphs" stroke="#000" stroke-width="0.15">0</text>
<g shape-rendering="crispEdges">
<rect x="4" y="799" width="1" height="3" fill="#000"/>
<rect x="68" y="799" width="1" height="3" fill="#000"/>
<rect x="132" y="799" width="1" height="3" fill="#000"/>
<rect x="196" y="799" width="1" height="3" fill="#000"/>
<rect x="260" y="799" width="1" height="3" fill="#000"/>
<rect x="324" y="799" width="1" height="3" fill="#000"/>
<rect x="388" y="799" width="1" height="3" fill="#000"/>
<rect x="452" y="799" width="1" height="3" fill="#000"/>
<rect x="516" y="799" width="1" height="3" fill="#000"/>
<rect x="580" y="799" width="1" height="3" fill="#000"/>
<rect x="644" y="799" width="1" height="3" fill="#000"/>
<rect x="708" y="799" width="1" height="3" fill="#000"/>
<rect x="772" y="799" width="1" height="3" fill="#000"/>
<rect x="836" y="799" width="1" height="3" fill="#000"/>
<rect x="900" y="799" width="1" height="3" fill="#000"/>
<rect x="964" y="799" width="1" height="3" fill="#000"/>
<rect x="1028" y="799" width="1" height="3" fill="#000"/>
<rect x="1092" y="799" width="1" height="3" fill="#000"/>
</g>
<text x="4" y="811" font-size="9.8" fill="#000" textLength="50" lengthAdjust="spacingAndGlyphs" stroke="#000" stroke-width="0.15">11 Apr 2019</text>
<text x="68" y="811" font-size="9.8" fill="#000" textLength="50" lengthAdjust="spacingAndGlyphs" stroke="#000" stroke-width="0.15">17 Apr 2019</text>
<text x="132" y="811" font-size="9.8" fill="#000" textLength="50.3" lengthAdjust="spacingAndGlyphs" stroke="#000" stroke-width="0.15">24 Apr 2019</text>
<text x="196" y="811" font-size="9.8" fill="#000" textLength="50.6" lengthAdjust="spacingAndGlyphs" stroke="#000" stroke-width="0.15">30 Apr 2019</text>
<text x="260" y="811" font-size="9.8" fill="#000" textLength="50" lengthAdjust="spacingAndGlyphs" stroke="#000" stroke-width="0.15">6 May 2019</text>
<text x="324" y="811" font-size="9.8" fill="#000" textLength="54.7" lengthAdjust="spacingAndGlyphs" stroke="#000" stroke-width="0.15">10 May 2019</text>
<text x="388" y="811" font-size="9.8" fill="#000" textLength="54" lengthAdjust="spacingAndGlyphs" stroke="#000" stroke-width="0.15">16 May 2019</text>
<text x="452" y="811" font-size="9.8" fill="#000" textLength="54" lengthAdjust="spacingAndGlyphs" stroke="#000" stroke-width="0.15">22 May 2019</text>
<text x="516" y="811" font-size="9.8" fill="#000" textLength="54" lengthAdjust="spacingAndGlyphs" stroke="#000" stroke-width="0.15">28 May 2019</text>
<text x="580" y="811" font-size="9.8" fill="#000" textLength="44.5" lengthAdjust="spacingAndGlyphs" stroke="#000" stroke-width="0.15">3 Jun 2019</text>
<text x="644" y="811" font-size="9.8" fill="#000" textLength="44.5" lengthAdjust="spacingAndGlyphs" stroke="#000" stroke-width="0.15">7 Jun 2019</text>
<text x="708" y="811" font-size="9.8" fill="#000" textLength="49" lengthAdjust="spacingAndGlyphs" stroke="#000" stroke-width="0.15">13 Jun 2019</text>
<text x="772" y="811" font-size="9.8" fill="#000" textLength="49.3" lengthAdjust="spacingAndGlyphs" stroke="#000" stroke-width="0.15">19 Jun 2019</text>
<text x="836" y="811" font-size="9.8" fill="#000" textLength="49.9" lengthAdjust="spacingAndGlyphs" stroke="#000" stroke-width="0.15">25 Jun 2019</text>
<text x="900" y="811" font-size="9.8" fill="#000" textLength="41.8" lengthAdjust="spacingAndGlyphs" stroke="#000" stroke-width="0.15">1 Jul 2019</text>
<text x="964" y="811" font-size="9.8" fill="#000" textLength="41.8" lengthAdjust="spacingAndGlyphs" stroke="#000" stroke-width="0.15">5 Jul 2019</text>
<text x="1028" y="811" font-size="9.8" fill="#000" textLength="46.8" lengthAdjust="spacingAndGlyphs" stroke="#000" stroke-width="0.15">11 Jul 2019</text>
<text x="1092" y="811" font-size="9.8" fill="#000" textLength="46" lengthAdjust="spacingAndGlyphs" stroke="#000" stroke-width="0.15">17 Jul 2019</text>
<path d="M7.5,33.5 L11,29 L14.5,33.5 Z" fill="#000"/>
<text x="19" y="34" font-size="9.6" fill="#000" textLength="68.5" lengthAdjust="spacingAndGlyphs" stroke="#000" stroke-width="0.1">USDCNH-,Daily</text>
<text x="94" y="34" font-size="9.6" fill="#000" textLength="141" lengthAdjust="spacingAndGlyphs" stroke="#000" stroke-width="0.1">6.87720 6.88098 6.87690 6.87809</text>
<text x="8" y="576" font-size="10" fill="#000" textLength="154" lengthAdjust="spacingAndGlyphs" stroke="#000" stroke-width="0.1">MACD(12,26,9) -0.003073 -0.003330</text>
<text x="8" y="681" font-size="10" fill="#000" textLength="67.5" lengthAdjust="spacingAndGlyphs" stroke="#000" stroke-width="0.1">RSI(14) 47.9886</text>
<text x="6.5" y="10" font-size="9.6" fill="#3a3a3a" textLength="12.5" lengthAdjust="spacing">H4</text>
<text x="36" y="10" font-size="9.6" fill="#3a3a3a" textLength="11" lengthAdjust="spacing">D1</text>
<text x="62.8" y="10" font-size="9.6" fill="#3a3a3a" textLength="14.2" lengthAdjust="spacing">W1</text>
<text x="89.6" y="10" font-size="9.6" fill="#3a3a3a" textLength="14.4" lengthAdjust="spacing">MN</text>
<text x="16.5" y="836" font-size="12.6" fill="#6a6a6a" textLength="84.5" lengthAdjust="spacingAndGlyphs">EURUSD-,Daily</text>
<text x="123.5" y="836" font-size="12.6" fill="#6a6a6a" textLength="86.5" lengthAdjust="spacingAndGlyphs">AUDUSD-,Daily</text>
<text x="233" y="836" font-size="12.6" fill="#6a6a6a" textLength="84" lengthAdjust="spacingAndGlyphs">USDCHF-,Daily</text>
<text x="340" y="836" font-size="12.6" fill="#6a6a6a" textLength="86" lengthAdjust="spacingAndGlyphs">USDCAD-,Daily</text>
<text x="449" y="836" font-size="12.6" fill="#000000" textLength="87.7" lengthAdjust="spacingAndGlyphs">USDCNH-,Daily</text>
<text x="560" y="836" font-size="12.6" fill="#6a6a6a" textLength="96.7" lengthAdjust="spacingAndGlyphs">EURCHF-,Weekly</text>
<text x="680.7" y="836" font-size="12.6" fill="#6a6a6a" textLength="83.8" lengthAdjust="spacingAndGlyphs">XAUUSD-,M15</text>
<text x="788" y="836" font-size="12.6" fill="#6a6a6a" textLength="72" lengthAdjust="spacingAndGlyphs">GBPUSD-,H1</text>
<text x="884" y="836" font-size="12.6" fill="#6a6a6a" textLength="56" lengthAdjust="spacingAndGlyphs">UKOil-,H1</text>
<g shape-rendering="crispEdges">
<rect x="5" y="40" width="223" height="68" fill="#ffffff"/>
<rect x="7" y="42" width="52" height="25" fill="#b00000"/>
<rect x="8" y="43" width="50" height="23" fill="url(#redtop)"/>
<rect x="7" y="66" width="109" height="40" fill="#b00000"/>
<rect x="8" y="67" width="107" height="38" fill="url(#redlow)"/>
<rect x="8" y="66" width="50" height="1" fill="#dc2a2a"/>
<rect x="174" y="42" width="52" height="25" fill="#b00000"/>
<rect x="175" y="43" width="50" height="23" fill="url(#redtop)"/>
<rect x="118" y="66" width="108" height="40" fill="#b00000"/>
<rect x="119" y="67" width="106" height="38" fill="url(#redlow)"/>
<rect x="175" y="66" width="50" height="1" fill="#dc2a2a"/>
<rect x="11" y="65" width="44" height="1" fill="#a00000"/>
<rect x="11" y="66" width="44" height="1" fill="#f07070"/>
<rect x="178" y="65" width="44" height="1" fill="#a00000"/>
<rect x="178" y="66" width="44" height="1" fill="#f07070"/>
<rect x="59" y="42" width="115" height="24" fill="#ffffff"/>
<rect x="61" y="42" width="111" height="22" fill="#a9adb5"/>
<rect x="62" y="43" width="109" height="20" fill="#ffffff"/>
<rect x="63" y="44" width="18" height="18" fill="url(#btng)"/>
<rect x="82" y="43" width="1" height="20" fill="#a9adb5"/>
<rect x="150" y="43" width="1" height="20" fill="#a9adb5"/>
<rect x="152" y="44" width="18" height="18" fill="url(#btng)"/>
</g>
<path d="M69,51 L74.5,51 L71.75,54 Z" fill="#4a5cc4"/>
<path d="M158,54 L163.5,54 L160.75,51 Z" fill="#4a5cc4"/>
<text x="147" y="57" font-size="12" fill="#000" text-anchor="end">1.00</text>
<text x="19.5" y="58" font-size="12" fill="#ffffff" textLength="25" lengthAdjust="spacingAndGlyphs">SELL</text>
<text x="187.5" y="58" font-size="12" fill="#ffffff" textLength="23.6" lengthAdjust="spacingAndGlyphs">BUY</text>
<text x="27" y="97" font-size="12" fill="#ffffff" textLength="23.5" lengthAdjust="spacingAndGlyphs" font-weight="bold">6.87</text>
<text x="55" y="97" font-size="35" fill="#ffffff" textLength="34" lengthAdjust="spacingAndGlyphs" style='font-family:"Liberation Serif", serif'>80</text>
<text x="94" y="81" font-size="12" fill="#ffffff" textLength="6.8" lengthAdjust="spacingAndGlyphs" font-weight="bold">9</text>
<text x="137" y="97" font-size="12" fill="#ffffff" textLength="23.8" lengthAdjust="spacingAndGlyphs" font-weight="bold">6.88</text>
<text x="165.5" y="97" font-size="35" fill="#ffffff" textLength="34" lengthAdjust="spacingAndGlyphs" style='font-family:"Liberation Serif", serif'>03</text>
<text x="205.5" y="81" font-size="12" fill="#ffffff" textLength="6" lengthAdjust="spacingAndGlyphs" font-weight="bold">3</text>
</svg>
</body></html>
